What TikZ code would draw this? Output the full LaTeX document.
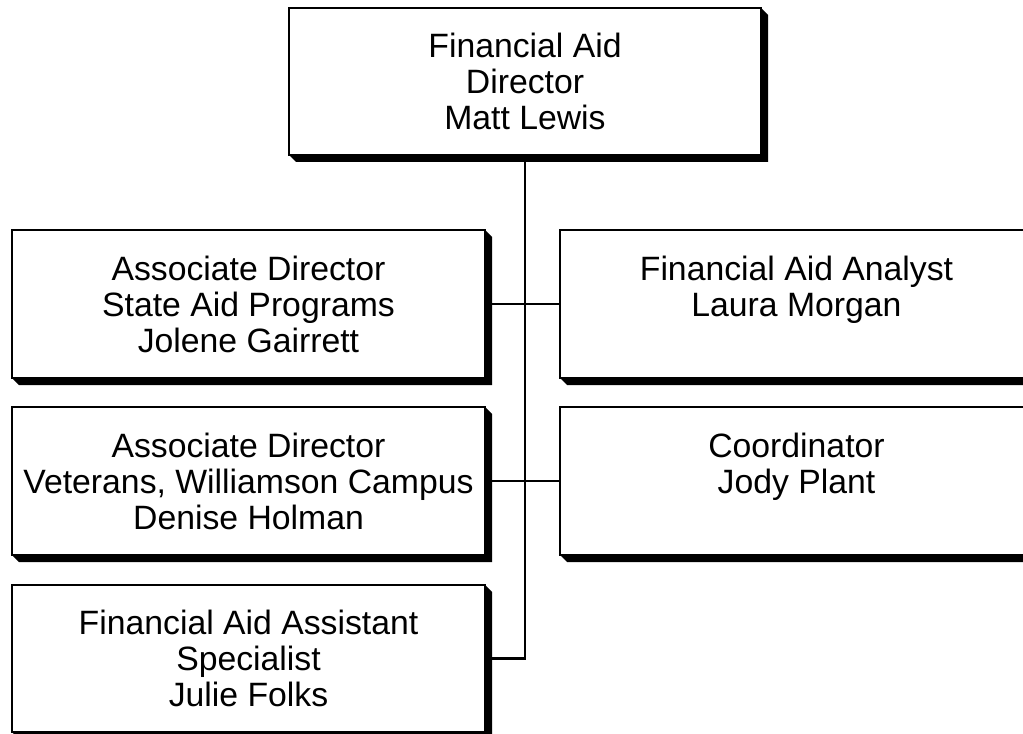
\documentclass[tikz,border=0pt]{standalone}
\usepackage{fontspec}
\setmainfont{Liberation Sans}
\usepackage{tikz}
\usetikzlibrary{positioning, calc}
\tikzset{
	orgbox/.style={draw=black, line width=2pt, fill=white, align=center, inner sep=0pt, outer sep=0pt,
			font=\fontsize{24}{25.6}\selectfont}
}
\tikzset{
	widebox/.style={orgbox, minimum width=473*0.025cm, minimum height=148*0.025cm}
}
\tikzset{
	orgline/.style={line width=1.6pt}
}

\begin{document}
\begin{tikzpicture}[x=0.025cm, y=-0.025cm]
\useasboundingbox (0,0) rectangle (1023,734);

\coordinate (cDir) at (525,81.5);
\coordinate (cState) at (248.5,304);
\coordinate (cAnalyst) at (796.5,304);
\coordinate (cVet) at (248.5,481);
\coordinate (cCoord) at (796.5,481);
\coordinate (cAssist) at (248.5,658.5);

\node[widebox, minimum width=472*0.025cm, minimum height=147*0.025cm] (dir) at (cDir) {Financial Aid\\Director\\Matt Lewis};
\node[widebox] (state) at (cState) {Associate Director\\State Aid Programs\\Jolene Gairrett};
\node[widebox] (analyst) at (cAnalyst) {Financial Aid Analyst\\Laura Morgan\\\mbox{}};
\node[widebox] (vet) at (cVet) {Associate Director\\Veterans, Williamson Campus\\Denise Holman};
\node[widebox] (coord) at (cCoord) {Coordinator\\Jody Plant\\\mbox{}};
\node[widebox, minimum height=147*0.025cm] (assist) at (cAssist) {Financial Aid Assistant\\Specialist\\Julie Folks};

% shadows
\foreach \n in {dir,state,analyst,vet,coord,assist}
	\fill[black] (\n.north east) -- ++(7,7) -- ([shift={(7,7)}]\n.south east)
		-- ([shift={(7,7)}]\n.south west) -- (\n.south west) -- (\n.south east) -- cycle;

% connectors
\draw[orgline] (dir.south) -- (dir.south |- assist.east) -- (assist.east);
\draw[orgline] (state.east) -- (analyst.west);
\draw[orgline] (vet.east) -- (coord.west);

\end{tikzpicture}
\end{document}
